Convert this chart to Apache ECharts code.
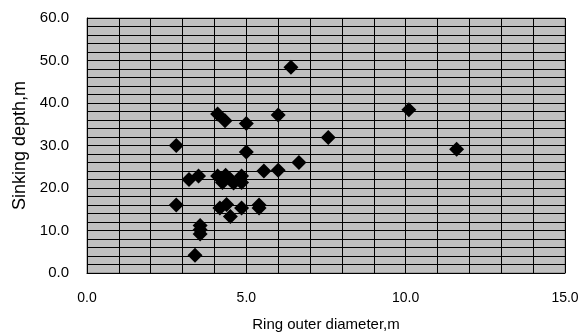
<!DOCTYPE html>
<html>
<head>
<meta charset="utf-8">
<script src="https://cdn.jsdelivr.net/npm/echarts@6/dist/echarts.min.js"></script>
<style>html,body{margin:0;padding:0;background:#fff;}#c{width:578px;height:333px;}</style>
</head>
<body>
<div id="c"></div>
<script>
const xTitle = "Ring outer diameter,m";
const yTitle = "Sinking depth,m";
const diameter = [2.8, 5.0, 5.55, 6.0, 3.2, 3.5, 4.1, 4.35, 4.25, 4.6, 4.85, 4.85, 4.5,
  2.8, 4.17, 4.38, 4.5, 4.85, 5.4, 5.4, 3.55, 3.55, 3.55, 3.39,
  4.1, 4.33, 5.0, 6.0, 6.4, 7.57, 6.65, 10.1, 11.6];
const depth = [30.0, 28.5, 24.0, 24.2, 22.0, 22.8, 22.8, 23.0, 21.3, 21.2, 22.8, 21.3, 22.0,
  16.0, 15.3, 16.1, 13.3, 15.3, 15.3, 16.0, 11.2, 10.2, 9.2, 4.2,
  37.4, 35.8, 35.2, 37.2, 48.4, 31.9, 26.0, 38.4, 29.1];
const points = diameter.map((d, i) => [d, depth[i]]);

const chart = echarts.init(document.getElementById('c'), null, {renderer: 'canvas'});
const font = 'Liberation Sans, Arial, sans-serif';
chart.setOption({
  animation: false,
  backgroundColor: '#ffffff',
  grid: {left: 87, right: 13, top: 18, bottom: 60, containLabel: false, outerBoundsMode: 'none',
    show: true, backgroundColor: '#c0c0c0', borderColor: '#808080', borderWidth: 1},
  xAxis: {
    type: 'value', min: 0, max: 15, interval: 5,
    name: xTitle, nameLocation: 'middle', nameGap: 44,
    nameTextStyle: {fontFamily: font, fontSize: 15, color: '#000'},
    axisLine: {lineStyle: {color: '#000', width: 1}},
    axisTick: {show: true, inside: true, length: 4, lineStyle: {color: '#000'}},
    axisLabel: {fontFamily: font, fontSize: 14, color: '#000', margin: 18, formatter: v => v.toFixed(1)},
    splitLine: {show: true, lineStyle: {color: '#000', width: 1}},
    minorTick: {show: false, splitNumber: 5},
    minorSplitLine: {show: true, lineStyle: {color: '#000', width: 1}}
  },
  yAxis: {
    type: 'value', min: 0, max: 60, interval: 10,
    name: yTitle, nameLocation: 'middle', nameGap: 57,
    nameTextStyle: {fontFamily: font, fontSize: 18, color: '#000'},
    axisLine: {show: true, lineStyle: {color: '#000', width: 1}},
    axisTick: {show: true, inside: true, length: 4, lineStyle: {color: '#000'}},
    axisLabel: {fontFamily: font, fontSize: 15, color: '#000', margin: 18, padding: [8, 0, 0, 0], formatter: v => v.toFixed(1)},
    splitLine: {show: true, lineStyle: {color: '#000', width: 1}},
    minorTick: {show: false, splitNumber: 5},
    minorSplitLine: {show: true, lineStyle: {color: '#000', width: 1}}
  },
  series: [{
    type: 'scatter',
    data: points,
    symbol: 'diamond',
    symbolSize: 15,
    itemStyle: {color: '#000000', opacity: 1}
  }]
});
</script>
</body>
</html>
